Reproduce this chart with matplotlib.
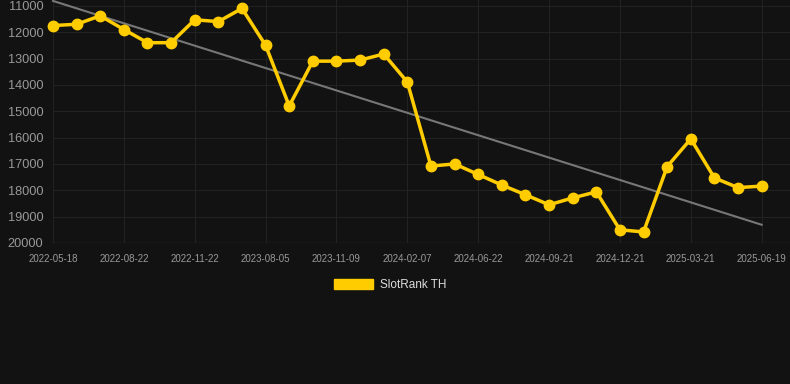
import matplotlib
matplotlib.use('Agg')
import matplotlib.pyplot as plt
import numpy as np

plt.rcParams['font.family'] = ['Liberation Sans', 'DejaVu Sans']

# Rank values (lower is better, axis is inverted)
ranks = [11750, 11700, 11380, 11900, 12400, 12400, 11530, 11600, 11100, 12500,
         14800, 13100, 13100, 13060, 12830, 13890, 17080, 17000, 17400, 17800,
         18170, 18550, 18290, 18060, 19500, 19580, 17100, 16050, 17530, 17900,
         17840]
tick_labels = ['2022-05-18', '2022-08-22', '2022-11-22', '2023-08-05', '2023-11-09',
               '2024-02-07', '2024-06-22', '2024-09-21', '2024-12-21', '2025-03-21',
               '2025-06-19']
y_ticks = [11000, 12000, 13000, 14000, 15000, 16000, 17000, 18000, 19000, 20000]

bg = '#121212'
x = np.arange(len(ranks))

fig = plt.figure(figsize=(7.9, 3.84), dpi=100, facecolor=bg)
ax = fig.add_axes([53 / 790, 1 - 243 / 384, (790 - 53) / 790, 243 / 384])
ax.set_facecolor(bg)

# trend line (least squares over the series)
k, b = np.polyfit(x, ranks, 1)
ax.plot(x, k * x + b, color='#777777', lw=1.5, zorder=2, clip_on=False)

ax.plot(x, ranks, color='#FFCC00', lw=2.5, marker='o', ms=7.5, zorder=3,
        label='SlotRank TH', clip_on=False)

ax.set_xlim(0, 31.2)
ax.set_ylim(20000, 10780)
ax.set_yticks(y_ticks)
ax.set_xticks(x[::3])
ax.set_xticklabels(tick_labels)
ax.grid(True, color='#222222', lw=0.8)
ax.set_axisbelow(True)
for s in ax.spines.values():
    s.set_visible(False)
ax.axhline(20000, color='#2e2e2e', lw=1, zorder=1)
ax.tick_params(axis='y', colors='#999999', labelsize=9.2, length=0, pad=7)
ax.tick_params(axis='x', colors='#999999', labelsize=7, length=0, pad=8)

leg = fig.legend(handles=[plt.Rectangle((0, 0), 1, 1, color='#FFCC00')],
                 labels=['SlotRank TH'], loc='center', bbox_to_anchor=(390 / 790, 1 - 285 / 384),
                 frameon=False, fontsize=8.5, handlelength=3.3, handleheight=0.9,
                 handletextpad=0.6)
for t in leg.get_texts():
    t.set_color('#dddddd')

fig.savefig('out.png', dpi=100, facecolor=bg)
